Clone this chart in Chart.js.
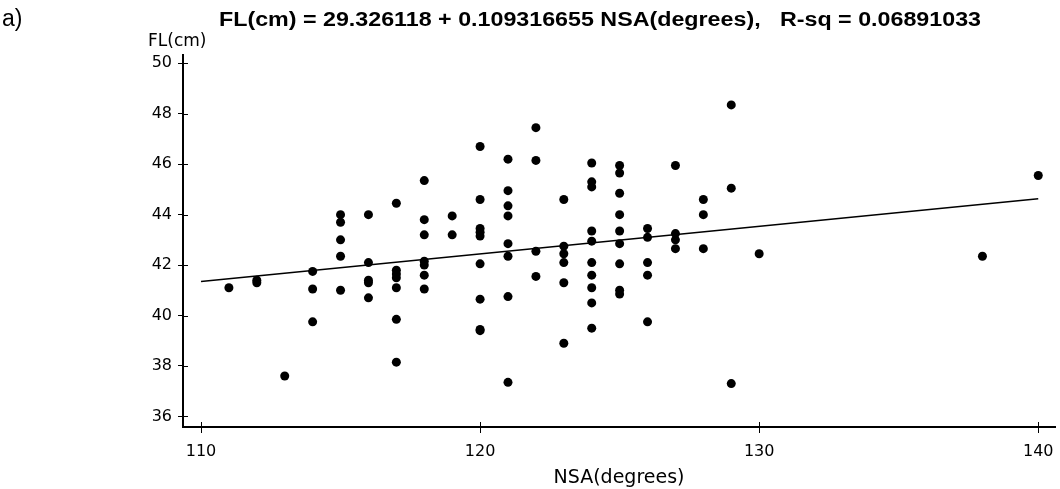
<!DOCTYPE html>
<html>
<head>
<meta charset="utf-8">
<script src="https://cdn.jsdelivr.net/npm/chart.js@4/dist/chart.umd.min.js"></script>
<style>
    html, body { margin: 0; padding: 0; background: #fff; }
    #wrap { width: 1060px; height: 489px; }
</style>
</head>
<body>
<div id="wrap"><canvas id="chart" width="1060" height="489"></canvas></div>
<script>
// NSA (degrees) and FL (cm) of each specimen
const nsaValues = [
    111,
    112, 112,
    113,
    114, 114, 114,
    115, 115, 115, 115, 115,
    116, 116, 116, 116, 116,
    117, 117, 117, 117, 117, 117, 117,
    118, 118, 118, 118, 118, 118, 118,
    119, 119,
    120, 120, 120, 120, 120, 120, 120, 120, 120,
    121, 121, 121, 121, 121, 121, 121, 121,
    122, 122, 122, 122,
    123, 123, 123, 123, 123, 123,
    124, 124, 124, 124, 124, 124, 124, 124, 124, 124,
    125, 125, 125, 125, 125, 125, 125, 125, 125,
    126, 126, 126, 126, 126,
    127, 127, 127, 127,
    128, 128, 128,
    129, 129, 129,
    130,
    138,
    140
];
const flValues = [
    41.1,
    41.4, 41.3,
    37.6,
    41.75, 41.05, 39.75,
    44.0, 43.7, 43.0, 42.35, 41.0,
    44.0, 42.1, 41.4, 41.3, 40.7,
    44.45, 41.8, 41.65, 41.5, 41.1, 39.85, 38.15,
    45.35, 43.8, 43.2, 42.15, 42.0, 41.6, 41.05,
    43.95, 43.2,
    46.7, 44.6, 43.45, 43.3, 43.15, 42.05, 40.65, 39.45, 39.4,
    46.2, 44.95, 44.35, 43.95, 42.85, 42.35, 40.75, 37.35,
    47.45, 46.15, 42.55, 41.55,
    44.6, 42.75, 42.45, 42.1, 41.3, 38.9,
    46.05, 45.3, 45.1, 43.35, 42.95, 42.1, 41.6, 41.1, 40.5, 39.5,
    45.95, 45.65, 44.85, 44.0, 43.35, 42.85, 42.05, 41.0, 40.85,
    43.45, 43.1, 42.1, 41.6, 39.75,
    45.95, 43.25, 43.0, 42.65,
    44.6, 44.0, 42.65,
    48.35, 45.05, 37.3,
    42.45,
    42.35,
    45.55
];

// fitted line end points
const fitX = [110, 140];
const fitY = [41.35, 44.63];

const xTicks = [110, 120, 130, 140];
const yTicks = [36, 38, 40, 42, 44, 46, 48, 50];

const titleText = 'FL(cm) = 29.326118 + 0.109316655 NSA(degrees),   R-sq = 0.06891033';
const panelLabel = 'a)';
const yAxisLabel = 'FL(cm)';
const xAxisLabel = 'NSA(degrees)';

const tickFont = { family: 'DejaVu Sans', size: 16 };

const points = nsaValues.map((x, i) => ({ x: x, y: flValues[i] }));
const fitLine = fitX.map((x, i) => ({ x: x, y: fitY[i] }));

// header texts: panel letter, y label, equation (squeezed into its box)
const headerText = {
    id: 'headerText',
    afterDraw(chart) {
        const ctx = chart.ctx;
        ctx.save();
        ctx.fillStyle = '#000';
        ctx.textBaseline = 'alphabetic';
        ctx.textAlign = 'left';
        ctx.font = '23px "Liberation Sans"';
        ctx.fillText(panelLabel, 2, 26);
        ctx.font = '17px "DejaVu Sans"';
        ctx.fillText(yAxisLabel, 148, 46);
        ctx.font = 'bold 20px "Liberation Sans"';
        const w = ctx.measureText(titleText).width;
        ctx.translate(219, 26);
        ctx.scale(762 / w, 1);
        ctx.fillText(titleText, 0, 0);
        ctx.restore();
    }
};

// small tick marks on the inner side of both axes
const innerTicks = {
    id: 'innerTicks',
    afterDraw(chart) {
        const ctx = chart.ctx;
        const xs = chart.scales.x, ys = chart.scales.y;
        const area = chart.chartArea;
        ctx.save();
        ctx.strokeStyle = '#000';
        ctx.lineWidth = 1;
        ctx.beginPath();
        xs.ticks.forEach(t => {
            const px = Math.round(xs.getPixelForValue(t.value)) + 0.5;
            ctx.moveTo(px, area.bottom);
            ctx.lineTo(px, area.bottom - 5);
        });
        ys.ticks.forEach(t => {
            const py = Math.round(ys.getPixelForValue(t.value)) + 0.5;
            ctx.moveTo(area.left, py);
            ctx.lineTo(area.left + 5, py);
        });
        ctx.stroke();
        ctx.restore();
    }
};

new Chart(document.getElementById('chart'), {
    type: 'scatter',
    data: {
        datasets: [
            {
                type: 'scatter',
                data: points,
                backgroundColor: '#000',
                borderWidth: 0,
                pointRadius: 4.5,
                pointHoverRadius: 4.5
            },
            {
                type: 'line',
                data: fitLine,
                borderColor: '#000',
                borderWidth: 1.5,
                pointRadius: 0,
                fill: false,
                tension: 0
            }
        ]
    },
    options: {
        responsive: false,
        animation: false,
        events: [],
        layout: { padding: { left: 0, right: 5, top: 55, bottom: 0 } },
        plugins: {
            legend: { display: false },
            tooltip: { enabled: false },
            title: { display: false }
        },
        scales: {
            x: {
                type: 'linear',
                min: 109.355,
                max: 140.6,
                afterBuildTicks: s => { s.ticks = xTicks.map(v => ({ value: v })); },
                afterFit: s => {
                    s.height = 62;
                    s.paddingLeft = 0;
                    s.paddingRight = 0;
                },
                border: { color: '#000', width: 2 },
                grid: { drawOnChartArea: false, drawTicks: true, tickLength: 6, color: '#000' },
                ticks: { color: '#000', font: tickFont, padding: 9, maxRotation: 0 },
                title: {
                    display: true,
                    text: xAxisLabel,
                    color: '#000',
                    font: { family: 'DejaVu Sans', size: 19 },
                    padding: { top: 0, bottom: 0 }
                }
            },
            y: {
                type: 'linear',
                min: 35.58,
                max: 50.33,
                afterBuildTicks: s => { s.ticks = yTicks.map(v => ({ value: v })); },
                afterFit: s => { s.width = 183; },
                border: { color: '#000', width: 2 },
                grid: { drawOnChartArea: false, drawTicks: true, tickLength: 5, color: '#000' },
                ticks: { color: '#000', font: tickFont, padding: 6 }
            }
        }
    },
    plugins: [headerText, innerTicks]
});
</script>
</body>
</html>
